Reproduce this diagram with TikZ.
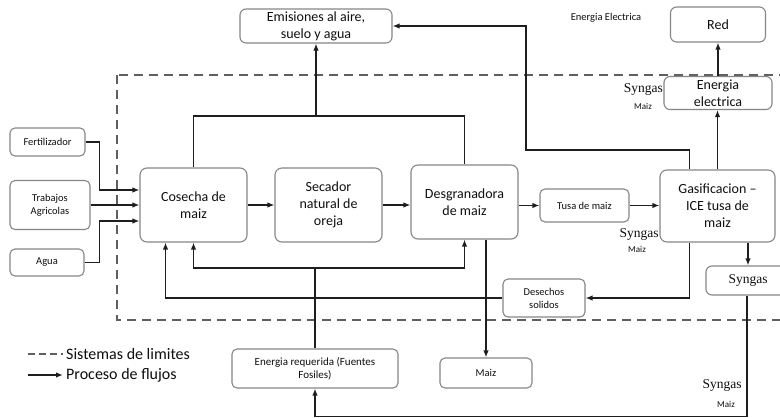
\documentclass[tikz,border=0pt]{standalone}
\usepackage{fontspec}
\setmainfont{Carlito}
\newfontfamily\synfont{Liberation Serif}
\usetikzlibrary{arrows.meta,positioning,calc}
\definecolor{BoxGray}{RGB}{135,135,135}
\definecolor{FlowInk}{RGB}{30,30,30}
\definecolor{TextInk}{RGB}{15,15,15}
\definecolor{LimitGray}{RGB}{95,95,95}
\tikzset{
  bigbox/.style={draw=BoxGray,fill=white,rounded corners=7pt,line width=1.1pt,
                 font=\fontsize{14}{17}\selectfont,text=TextInk,align=center,inner sep=2pt},
  midbox/.style={draw=BoxGray,fill=white,rounded corners=6pt,line width=1.1pt,
                 font=\fontsize{14}{17}\selectfont,text=TextInk,align=center,inner sep=2pt},
  smallbox/.style={draw=BoxGray,fill=white,rounded corners=5pt,line width=1.1pt,
                 font=\fontsize{10.5}{13}\selectfont,text=TextInk,align=center,inner sep=2pt},
  synlabel/.style={font=\synfont\fontsize{13.5}{15}\selectfont,text=TextInk,inner sep=0pt},
  maizlabel/.style={font=\fontsize{9}{10}\selectfont,text=TextInk,inner sep=0pt},
  flow/.style={-{Latex[length=7pt,width=5.5pt]},FlowInk,line width=1.5pt},
  plain/.style={FlowInk,line width=1.5pt},
  limite/.style={LimitGray,line width=1.1pt,dash pattern=on 9pt off 6pt},
  legtext/.style={font=\fontsize{16}{18}\selectfont,text=TextInk,inner sep=0pt},
}
\begin{document}
\begin{tikzpicture}[x=1pt,y=-1pt]
  \clip (0,0) rectangle (780,418);
  \fill[white] (0,0) rectangle (780,418);
  % limite del sistema
  \draw[limite] (117,75) rectangle (800,320);
  % cajas principales
  \node[midbox,minimum width=152pt,minimum height=34pt] (emis) at (316,26) {Emisiones al aire,\\suelo y agua};
  \node[midbox,minimum width=95pt,minimum height=35pt] (red) at (718,24.5) {Red};
  \node[midbox,minimum width=108pt,minimum height=33pt] (elec) at (718,93) {Energia\\electrica};
  \node[smallbox,minimum width=75pt,minimum height=28pt] (fert) at (47.5,142) {Fertilizador};
  \node[smallbox,minimum width=80pt,minimum height=49pt] (trab) at (50,205) {Trabajos\\Agricolas};
  \node[smallbox,minimum width=74pt,minimum height=27pt] (agua) at (47,262.5) {Agua};
  \node[bigbox,minimum width=107pt,minimum height=74pt] (cos) at (193.5,205) {Cosecha de\\maiz};
  \node[bigbox,minimum width=107pt,minimum height=74pt] (sec) at (328.5,205) {Secador\\natural de\\oreja};
  \node[bigbox,minimum width=107pt,minimum height=74pt] (des) at (464.5,202) {Desgranadora\\de maiz};
  \node[smallbox,minimum width=89pt,minimum height=33pt] (tusa) at (584.5,205.5) {Tusa de maiz};
  \node[bigbox,minimum width=115pt,minimum height=72pt] (gas) at (717.5,206) {Gasificacion --\\ICE tusa de\\maiz};
  \node[draw=BoxGray,fill=white,rounded corners=6pt,line width=1.1pt,
        minimum width=84pt,minimum height=29pt,font=\synfont\fontsize{13.5}{15}\selectfont,
        text=TextInk] (syn) at (748,280.5) {Syngas\hspace{6pt}};
  \node[smallbox,minimum width=82pt,minimum height=38pt] (desech) at (544,298) {Desechos\\solidos};
  \node[smallbox,minimum width=92pt,minimum height=30pt] (maiz) at (486,373) {Maiz};
  \node[smallbox,minimum width=166pt,minimum height=39pt,font=\fontsize{11}{13.5}\selectfont] (ener) at (315,368.5) {Energia requerida (Fuentes\\Fosiles)};
  % etiquetas sueltas
  \node[font=\fontsize{10.5}{12}\selectfont,text=TextInk] (eeleb) at (606,18) {Energia Electrica};
  \node[synlabel,anchor=east] (syn1) at (663,89) {Syngas};
  \node[maizlabel] (mz1) at (643,106) {Maiz};
  \node[synlabel] (syn2) at (639,234) {Syngas};
  \node[maizlabel] (mz2) at (637,249) {Maiz};
  \node[synlabel] (syn3) at (722,385) {Syngas};
  \node[maizlabel] (mz3) at (726,404) {Maiz};
  % entradas
  \draw[flow] (fert.east) -| ([xshift=-40pt,yshift=15pt]cos.west) -- ([yshift=15pt]cos.west);
  \draw[flow] (trab.east) -- (cos.west);
  \draw[flow] (agua.east) -| ([xshift=-40pt,yshift=-16pt]cos.west) -- ([yshift=-16pt]cos.west);
  % cadena principal
  \draw[flow] (cos.east) -- (sec.west);
  \draw[flow] (sec.east) -- (sec.east -| des.west);
  \draw[flow] (tusa.west -| des.east) -- (tusa.west);
  \draw[flow] (tusa.east) -- (tusa.east -| gas.west);
  % emisiones
  \coordinate (jtop) at (316,116);
  \draw[plain] (cos.north) |- (jtop) -| (des.north);
  \draw[flow] (jtop) -- (emis.south);
  \draw[flow] ([xshift=-28pt]gas.north) |- (526,150) |- (emis.east);
  % energia electrica
  \draw[flow] (gas.north) -- (gas.north |- elec.south);
  \draw[flow] (elec.north) -- (red.south);
  % desechos
  \draw[flow] ([xshift=-28pt]gas.south) |- (desech.east);
  \draw[flow] (desech.west) -| ([xshift=-28pt]cos.south);
  % energia requerida
  \coordinate (jbot) at (ener.north |- 0,268);
  \draw[plain] (ener.north) -- (jbot);
  \draw[flow] (jbot) -| (cos.south);
  \draw[flow] (jbot) -| (des.south);
  % productos
  \draw[flow] (des.south -| maiz.north) -- (maiz.north);
  \draw[flow] (gas.south -| syn.north) -- (syn.north);
  \draw[flow] ([xshift=-1pt]syn.south) |- ([yshift=-28pt]ener.south) -- (ener.south);
  % leyenda
  \node[legtext,anchor=west] (leg1) at (66,354) {Sistemas de limites};
  \node[legtext,anchor=west] (leg2) at (66,375) {Proceso de flujos};
  \draw[limite,dash pattern=on 7pt off 4pt] ([xshift=-38pt]leg1.west) -- ([xshift=-3pt]leg1.west);
  \draw[flow] ([xshift=-38pt]leg2.west) -- ([xshift=-3pt]leg2.west);
\end{tikzpicture}
\end{document}
